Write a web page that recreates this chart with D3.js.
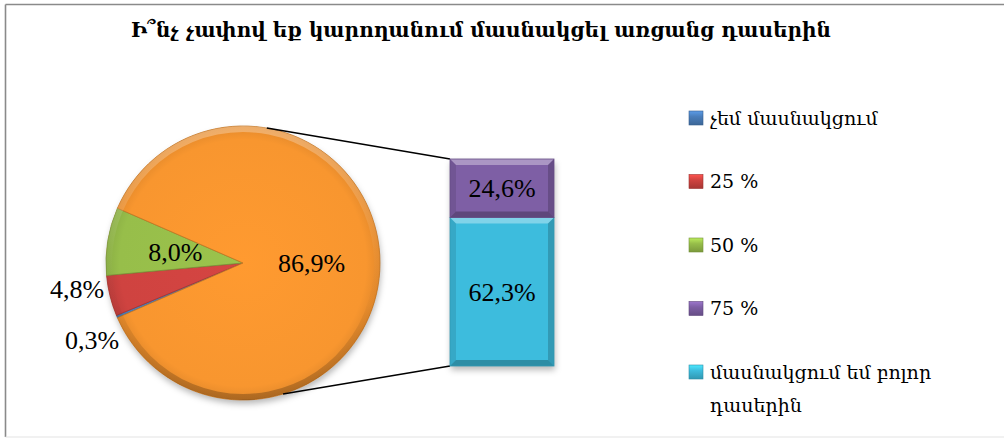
<!DOCTYPE html>
<html>
<head>
<meta charset="utf-8">
<script src="https://cdn.jsdelivr.net/npm/d3@7"></script>
<style>
  body { margin: 0; background: #fff; }
  svg { display: block; }
</style>
</head>
<body>
<svg id="chart" width="1004" height="438"></svg>
<script>

var title = "Ի՞նչ չափով եք կարողանում մասնակցել առցանց դասերին"
var categories = ["չեմ մասնակցում", "25 %", "50 %", "75 %", "մասնակցում եմ բոլոր դասերին"]
var values = [0.3, 4.8, 8.0, 24.6, 62.3]
var colors = ["#4A7EBB", "#CF4340", "#97BE4A", "#7E5FA5", "#3DBCDD"]
var otherColor = "#F8962F"
var pieCount = 3   // first three slices stay in the pie, the rest go to the bar

var svg = d3.select("#chart")
var fmt = function(v){ return d3.format(".1f")(v).replace(".", ",") + "%" }

// frame
svg.append("line").attr("x1", 5.5).attr("y1", 4.5).attr("x2", 1004).attr("y2", 4.5)
  .attr("stroke", "#8a8a8a").attr("stroke-width", 1.6)
svg.append("line").attr("x1", 5.5).attr("y1", 4.5).attr("x2", 5.5).attr("y2", 437)
  .attr("stroke", "#8a8a8a").attr("stroke-width", 1.6)
svg.append("line").attr("x1", 5.5).attr("y1", 437).attr("x2", 1004).attr("y2", 437)
  .attr("stroke", "#e3e3e3").attr("stroke-width", 1.2)

// title
var titleText = svg.append("text")
  .attr("x", 481).attr("y", 37)
  .attr("text-anchor", "middle")
  .style("font-family", "'DejaVu Serif', serif")
  .style("font-weight", "bold")
  .style("font-size", "21px")
  .text(title)
var tl = titleText.node().getComputedTextLength()
if (Math.abs(tl - 700) > 10) titleText.attr("textLength", 700).attr("lengthAdjust", "spacingAndGlyphs")

var defs = svg.append("defs")
var shadow = defs.append("filter").attr("id", "shadow")
  .attr("x", "-20%").attr("y", "-20%").attr("width", "140%").attr("height", "140%")
shadow.append("feDropShadow").attr("dx", 1).attr("dy", 4).attr("stdDeviation", 3)
  .attr("flood-color", "#000").attr("flood-opacity", 0.28)

// *** PIE ***

var cx = 243, cy = 263, r = 137
var total = d3.sum(values)
var otherValue = d3.sum(values.slice(pieCount))
var pieValues = values.slice(0, pieCount).concat([otherValue])
var pieColors = colors.slice(0, pieCount).concat([otherColor])

// "other" slice is centred on the right side, like Excel's bar of pie
var smallFrac = d3.sum(values.slice(0, pieCount)) / total
var start = Math.PI / 2 - 2 * Math.PI * smallFrac - Math.PI * (otherValue / total)
var pie = d3.pie().sort(null).value(function(d){ return d })
  .startAngle(start).endAngle(start + 2 * Math.PI)
var arcs = pie(pieValues)
var arc = d3.arc().innerRadius(0).outerRadius(r)

pieColors.forEach(function(c, i){
  var g = defs.append("radialGradient").attr("id", "pg" + i)
    .attr("gradientUnits", "userSpaceOnUse")
    .attr("cx", 0).attr("cy", 0).attr("r", r)
  g.append("stop").attr("offset", "0%").attr("stop-color", d3.color(c).brighter(0.08))
  g.append("stop").attr("offset", "90%").attr("stop-color", c)
  g.append("stop").attr("offset", "100%").attr("stop-color", d3.color(c).darker(0.25))
})

var pieG = svg.append("g").attr("transform", "translate(" + cx + "," + cy + ")")
pieG.append("circle").attr("r", r).attr("fill", otherColor).attr("filter", "url(#shadow)")
pieG.selectAll(".slice")
    .data(arcs)
  .enter().append("path")
    .attr("class", "slice")
    .attr("d", arc)
    .attr("fill", function(d, i){ return "url(#pg" + i + ")" })
    .attr("stroke", function(d, i){ return d3.color(pieColors[i]).darker(0.7) })
    .attr("stroke-width", 0.8)

// bevel rim: light on top, dark at bottom
var rimGrad = defs.append("linearGradient").attr("id", "rim")
  .attr("x1", 0).attr("y1", 0).attr("x2", 0).attr("y2", 1)
rimGrad.append("stop").attr("offset", "0%").attr("stop-color", "#fff").attr("stop-opacity", 0.3)
rimGrad.append("stop").attr("offset", "45%").attr("stop-color", "#fff").attr("stop-opacity", 0.03)
rimGrad.append("stop").attr("offset", "65%").attr("stop-color", "#000").attr("stop-opacity", 0.02)
rimGrad.append("stop").attr("offset", "100%").attr("stop-color", "#000").attr("stop-opacity", 0.25)
pieG.append("path")
  .attr("d", d3.arc().innerRadius(r - 6).outerRadius(r).startAngle(0).endAngle(2 * Math.PI)())
  .attr("fill", "url(#rim)")

// labels
var labelFont = "'Liberation Serif', 'Times New Roman', serif"
var inner = d3.arc().innerRadius(r * 0.5).outerRadius(r * 0.5)
var outerNudge = [[6, 22], [-2, -8]]   // outside labels pushed apart like Excel's best fit
arcs.forEach(function(d, i){
  var inside = d.value > 6
  var t = pieG.append("text")
    .style("font-family", labelFont).style("font-size", "26px")
    .attr("dy", "0.35em")
    .text(fmt(d.value))
  if (inside) {
    var p = inner.centroid(d)
    t.attr("x", p[0]).attr("y", p[1]).attr("text-anchor", "middle")
  } else {
    var a = (d.startAngle + d.endAngle) / 2
    t.attr("x", (r + 4) * Math.sin(a) + outerNudge[i][0])
     .attr("y", -(r + 4) * Math.cos(a) + outerNudge[i][1])
     .attr("text-anchor", "end")
  }
})

// *** BAR ***

var barX = 450, barW = 104
var y = d3.scaleLinear().domain([0, otherValue]).range([366, 159])

// the first secondary value sits on top, so stack from the last one up
var stack = []
var base = 0
var secondary = values.slice(pieCount)
for (var j = secondary.length - 1; j >= 0; j--) {
  stack.push({ v: secondary[j], y0: base, y1: base + secondary[j], color: colors[pieCount + j] })
  base += secondary[j]
}

// connector lines from pie to bar corners
var conA = [10, 163].map(function(deg){ return deg * Math.PI / 180 })
svg.append("line")
  .attr("x1", cx + r * Math.sin(conA[0])).attr("y1", cy - r * Math.cos(conA[0]))
  .attr("x2", barX).attr("y2", y(otherValue))
  .attr("stroke", "#000").attr("stroke-width", 1.5)
svg.append("line")
  .attr("x1", cx + r * Math.sin(conA[1])).attr("y1", cy - r * Math.cos(conA[1]))
  .attr("x2", barX).attr("y2", y(0))
  .attr("stroke", "#000").attr("stroke-width", 1.5)

var barG = svg.append("g")
barG.append("rect")
  .attr("x", barX).attr("y", y(otherValue)).attr("width", barW).attr("height", y(0) - y(otherValue))
  .attr("fill", "#fff").attr("filter", "url(#shadow)")

var bv = 6
stack.forEach(function(s){
  var x0 = barX, x1 = barX + barW, top = y(s.y1), bot = y(s.y0)
  var g = barG.append("g")
  g.append("rect").attr("x", x0).attr("y", top).attr("width", barW).attr("height", bot - top)
    .attr("fill", s.color)
  var poly = function(pts, fill, op){
    g.append("polygon").attr("points", pts.map(function(p){ return p.join(",") }).join(" "))
      .attr("fill", fill).attr("opacity", op)
  }
  poly([[x0, top], [x1, top], [x1 - bv, top + bv], [x0 + bv, top + bv]], "#fff", 0.35)
  poly([[x0, bot], [x1, bot], [x1 - bv, bot - bv], [x0 + bv, bot - bv]], "#000", 0.25)
  poly([[x0, top], [x0 + bv, top + bv], [x0 + bv, bot - bv], [x0, bot]], "#000", 0.1)
  poly([[x1, top], [x1 - bv, top + bv], [x1 - bv, bot - bv], [x1, bot]], "#000", 0.18)
  g.append("rect").attr("x", x0).attr("y", top).attr("width", barW).attr("height", bot - top)
    .attr("fill", "none").attr("stroke", d3.color(s.color).darker(0.6)).attr("stroke-width", 0.8)
  g.append("text")
    .attr("x", x0 + barW / 2).attr("y", (top + bot) / 2).attr("dy", "0.35em")
    .attr("text-anchor", "middle")
    .style("font-family", labelFont).style("font-size", "26px")
    .text(fmt(s.v))
})

// *** LEGEND ***

var legend = svg.append("g").attr("transform", "translate(689,118)")
var rowStep = 63.5
colors.forEach(function(c, i){
  var g = defs.append("linearGradient").attr("id", "lg" + i)
    .attr("x1", 0).attr("y1", 0).attr("x2", 0).attr("y2", 1)
  g.append("stop").attr("offset", "0%").attr("stop-color", d3.color(c).brighter(0.6))
  g.append("stop").attr("offset", "40%").attr("stop-color", c)
  g.append("stop").attr("offset", "100%").attr("stop-color", d3.color(c).darker(0.6))
})
var rows = legend.selectAll(".row")
    .data(categories)
  .enter().append("g")
    .attr("class", "row")
    .attr("transform", function(d, i){ return "translate(0," + (i * rowStep) + ")" })
rows.append("rect")
  .attr("x", 0).attr("y", -7).attr("width", 14).attr("height", 14)
  .attr("fill", function(d, i){ return "url(#lg" + i + ")" })
  .attr("stroke", function(d, i){ return d3.color(colors[i]).darker(0.8) })
  .attr("stroke-width", 0.6)
rows.each(function(d){
  var t = d3.select(this).append("text")
    .attr("x", 21).attr("y", 6.5)
    .style("font-family", "'DejaVu Serif', serif")
    .style("font-size", "19px")
  // wrap long entries
  var words = d.split(" "), line = []
  var tspan = t.append("tspan").attr("x", 21).attr("dy", 0)
  words.forEach(function(w){
    line.push(w)
    tspan.text(line.join(" "))
    if (tspan.node().getComputedTextLength() > 262 && line.length > 1) {
      line.pop()
      tspan.text(line.join(" "))
      line = [w]
      tspan = t.append("tspan").attr("x", 21).attr("dy", 33).text(w)
    }
  })
})

</script>
</body>
</html>
